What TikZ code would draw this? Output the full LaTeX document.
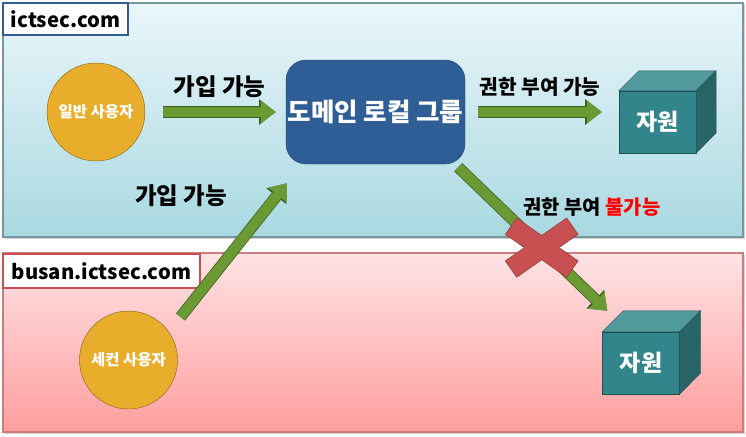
\documentclass[tikz,border=0pt]{standalone}
\usepackage{fontspec}
\setmainfont{Noto Sans CJK KR}
\usetikzlibrary{arrows.meta,calc,shadows}
\definecolor{skytop}{HTML}{EAF6FA}
\definecolor{skybot}{HTML}{A9D9E1}
\definecolor{rosetop}{HTML}{FFE3E5}
\definecolor{rosebot}{HTML}{FF9E9E}
\definecolor{userfill}{HTML}{E8AE2B}
\definecolor{groupfill}{HTML}{2F5E96}
\definecolor{cubefront}{HTML}{31858B}
\definecolor{cubetop}{HTML}{539A9F}
\definecolor{cubeside}{HTML}{276568}
\definecolor{arrowgreen}{HTML}{6A9A34}
\definecolor{crossred}{HTML}{C85050}

\begin{document}
\begin{tikzpicture}[x=1pt,y=-1pt, every node/.style={font=\bfseries},
  zone/.style={draw=#1,line width=1.2pt,drop shadow={shadow xshift=1.5pt,shadow yshift=-1.5pt,opacity=0.35}},
  tag/.style={draw=#1,line width=2pt,fill=white,inner sep=0pt,font=\bfseries\fontsize{20.3}{21}\selectfont},
  user/.style={circle,draw=userfill!55!black,fill=userfill,minimum size=98pt,text=white,font=\bfseries\fontsize{15.5}{16}\selectfont},
  group/.style={draw=groupfill!75!black,fill=groupfill,rounded corners=20pt,inner sep=0pt,minimum width=179pt,minimum height=104pt,text=white,font=\bfseries\fontsize{25.5}{26}\selectfont},
  res/.style={draw=cubeside!80!black,fill=cubefront,minimum width=77pt,minimum height=62pt,text=white,font=\bfseries\fontsize{23}{23}\selectfont},
  cubeline/.style={draw=cubeside!80!black},
  fat/.style={line width=10pt,arrowgreen,-{Triangle[width=22pt,length=15pt]},
    preaction={draw=arrowgreen!60!black,line width=11.5pt,-{Triangle[width=24.5pt,length=16.7pt]}}},
  say/.style={text=black,font=\bfseries\fontsize{#1}{#1}\selectfont}]
\useasboundingbox (0,0) rectangle (746,436);
% two domains
\draw[zone=skybot!70!black,top color=skytop,bottom color=skybot] (3,3) rectangle (743,237);
\draw[zone=rosebot!80!black,top color=rosetop,bottom color=rosebot] (3,253) rectangle (743,432);
\node[tag=groupfill,minimum width=125pt,minimum height=32pt] (dom1) at (65.5,19) {ictsec.com};
\node[tag=crossred,minimum width=197pt,minimum height=34pt] (dom2) at (101.5,271) {busan.ictsec.com};
% users, group, resources
\node[user] (user1) at (96,112) {일반 사용자};
\node[user] (user2) at (128.5,360) {세컨 사용자};
\node[group] (group) at (375.5,112) {도메인 로컬 그룹};
\node[res] (res1) at (657.5,122) {자원};
\node[res] (res2) at (641,363) {자원};
\foreach \r/\d in {res1/20,res2/21} {
  \filldraw[cubeline,fill=cubetop] (\r.north west) -- ++(\d,-\d) -- ++(77,0) -- (\r.north east) -- cycle;
  \filldraw[cubeline,fill=cubeside] (\r.north east) -- ++(\d,-\d) -- ++(0,62) -- (\r.south east) -- cycle;
}
% arrows
\draw[fat] ($(user1.east)+(18,0)$) -- ($(group.west)+(-10,0)$) node[midway,above=6pt,say=23.5] (join1) {가입 가능};
\draw[fat] ($(group.east)+(13,0)$) -- ($(res1.west |- group.east)+(-17,0)$) node[midway,above=7pt,say=20.2] (grant1) {권한 부여 가능};
\draw[fat] ($(user2)+(52,-43)$) -- ($(group.south west)+(1,19)$);
\draw[fat] ($(group.south east)+(-7,3)$) -- ($(res2.north west)+(5,-21)$) coordinate[pos=0.56] (xc);
\node[say=23.5] (join2) at (181,196) {가입 가능};
\node[say=19.8] (grant2) at (592,207) {권한 부여 \textcolor{red}{불가능}};
% cross
\foreach \a in {35,-35}
  \filldraw[draw=crossred!75!black,line width=1.5pt,fill=crossred,shift={(xc)},rotate=\a] (-37,-9.5) rectangle (37,9.5);
\foreach \a in {35,-35}
  \fill[crossred,shift={(xc)},rotate=\a] (-37,-9.5) rectangle (37,9.5);
\end{tikzpicture}
\end{document}
